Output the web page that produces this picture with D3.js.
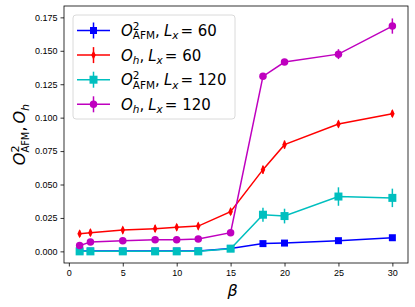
<!DOCTYPE html>
<html>
<head>
<meta charset="utf-8">
<script src="https://cdn.jsdelivr.net/npm/d3@7"></script>
<style>
  body { margin: 0; background: #fff; }
  svg { display: block; font-family: "DejaVu Sans", sans-serif; }
  .axis text { font-size: 9px; fill: #000; }
  .axis path, .axis line { stroke: #000; stroke-width: 0.8; }
</style>
</head>
<body>
<div id="chart-container"></div>
<script>
// data
var betaAll = [1, 2, 5, 8, 10, 12, 15, 18, 20, 25, 30];

var afm60 = [0.0002, 0.0002, 0.0002, 0.0002, 0.0002, 0.0003, 0.0022, 0.0058, 0.0062, 0.0080, 0.0102];
var afm60Err = [0.0003, 0.0003, 0.0003, 0.0003, 0.0003, 0.0003, 0.0005, 0.0008, 0.0008, 0.0008, 0.0010];

var oh60 = [0.0132, 0.0140, 0.0159, 0.0170, 0.0180, 0.0189, 0.0297, 0.0611, 0.0798, 0.0952, 0.1030];
var oh60Err = [0.0025, 0.0025, 0.0025, 0.0025, 0.0025, 0.0025, 0.0025, 0.0030, 0.0030, 0.0025, 0.0025];

var afm120 = [0.0000, 0.0000, 0.0000, 0.0000, 0.0000, 0.0000, 0.0020, 0.0274, 0.0264, 0.0410, 0.0400];
var afm120Err = [0.0005, 0.0005, 0.0005, 0.0005, 0.0005, 0.0005, 0.0008, 0.0053, 0.0055, 0.0069, 0.0069];

var oh120 = [0.0043, 0.0070, 0.0080, 0.0087, 0.0087, 0.0092, 0.0140, 0.1309, 0.1416, 0.1475, 0.1685];
var oh120Err = [0.0010, 0.0010, 0.0010, 0.0010, 0.0010, 0.0010, 0.0010, 0.0015, 0.0015, 0.0037, 0.0057];

var xTicks = [0, 5, 10, 15, 20, 25, 30];
var yTicks = [0, 0.025, 0.05, 0.075, 0.1, 0.125, 0.15, 0.175];

var series = [
    { vals: afm60, err: afm60Err, color: "#0000ff", marker: "square", size: 7, label: "afm", L: "60" },
    { vals: oh60, err: oh60Err, color: "#ff0000", marker: "diamond", size: 7, label: "oh", L: "60" },
    { vals: afm120, err: afm120Err, color: "#00bfbf", marker: "square", size: 8, label: "afm", L: "120" },
    { vals: oh120, err: oh120Err, color: "#bf00bf", marker: "circle", size: 7.5, label: "oh", L: "120" }
];

var width = 415,
    height = 307,
    margin = { left: 64, right: 7, top: 6, bottom: 44 };

var svg = d3.select("#chart-container").append("svg")
    .attr("width", width)
    .attr("height", height);

var xScale = d3.scaleLinear()
    .domain([-0.45, 31.45])
    .range([margin.left, width - margin.right]);

var yScale = d3.scaleLinear()
    .domain([-0.0087, 0.1835])
    .range([height - margin.bottom, margin.top]);

var xAxis = d3.axisBottom(xScale)
    .tickValues(xTicks)
    .tickSize(3.5)
    .tickPadding(3)
    .tickFormat(d3.format("d"));

var yAxis = d3.axisLeft(yScale)
    .tickValues(yTicks)
    .tickSize(3.5)
    .tickPadding(3)
    .tickFormat(d3.format(".3f"));

var gX = svg.append("g")
    .attr("class", "axis")
    .attr("transform", "translate(0," + (height - margin.bottom) + ")")
    .call(xAxis);
gX.select(".domain").remove();

var gY = svg.append("g")
    .attr("class", "axis")
    .attr("transform", "translate(" + margin.left + ",0)")
    .call(yAxis);
gY.select(".domain").remove();

// frame
svg.append("rect")
    .attr("x", margin.left)
    .attr("y", margin.top)
    .attr("width", width - margin.left - margin.right)
    .attr("height", height - margin.top - margin.bottom)
    .attr("fill", "none")
    .attr("stroke", "#000")
    .attr("stroke-width", 0.8);

function markerPath(type, s) {
    var h = s / 2;
    if (type == "square") return "M" + (-h) + "," + (-h) + "H" + h + "V" + h + "H" + (-h) + "Z";
    if (type == "diamond") return "M0," + (-h * 1.3) + "L" + (h * 0.65) + ",0L0," + (h * 1.3) + "L" + (-h * 0.65) + ",0Z";
    return d3.symbol().type(d3.symbolCircle).size(Math.PI * h * h)();
}

var line = d3.line()
    .x((d, i) => xScale(betaAll[i]))
    .y(d => yScale(d));

var plot = svg.append("g");

series.forEach(function (s) {
    var g = plot.append("g");
    g.append("path")
        .attr("d", line(s.vals))
        .attr("fill", "none")
        .attr("stroke", s.color)
        .attr("stroke-width", 1.5);
    g.selectAll(".err").data(s.vals).enter().append("line")
        .attr("x1", (d, i) => xScale(betaAll[i]))
        .attr("x2", (d, i) => xScale(betaAll[i]))
        .attr("y1", (d, i) => yScale(d - s.err[i]))
        .attr("y2", (d, i) => yScale(d + s.err[i]))
        .attr("stroke", s.color)
        .attr("stroke-width", 1.5);
    g.selectAll(".mk").data(s.vals).enter().append("path")
        .attr("d", markerPath(s.marker, s.size))
        .attr("transform", (d, i) => "translate(" + xScale(betaAll[i]) + "," + yScale(d) + ")")
        .attr("fill", s.color);
});

// math-like text in one <text>, runs: {t, it, sub, sup, stack, gap}
function mathText(g, runs, size) {
    var probe = g.append("text").style("white-space", "pre");
    var text = g.append("text").attr("fill", "#000").style("white-space", "pre");
    var x = 0, supStart = 0, supEnd = 0;
    runs.forEach(function (r) {
        var fs = r.sup ? size * 0.7 : (r.sub ? size * (r.small || 0.7) : size);
        var dy = r.sub ? size * 0.22 : (r.sup ? -size * 0.4 : 0);
        var startX = r.stack ? supStart : x;
        probe.attr("font-size", fs).attr("font-style", r.it ? "italic" : "normal").text(r.t);
        var w = probe.node().getComputedTextLength();
        text.append("tspan")
            .attr("x", startX)
            .attr("y", dy)
            .attr("font-size", fs)
            .attr("font-style", r.it ? "italic" : "normal")
            .text(r.t);
        if (r.sup) { supStart = startX; supEnd = startX + w; }
        x = r.stack ? Math.max(startX + w, supEnd) : startX + w;
        if (r.gap) x += r.gap;
    });
    probe.remove();
    return x;
}

function labelRuns(s) {
    var first = s.label == "afm"
        ? [{ t: "O", it: true }, { t: "2", sup: true }, { t: "AFM", sub: true, stack: true }]
        : [{ t: "O", it: true }, { t: "h", it: true, sub: true }];
    return first.concat([
        { t: ",", gap: 4 },
        { t: "L", it: true },
        { t: "x", it: true, sub: true, gap: 2 },
        { t: "= " + s.L }
    ]);
}

// legend
var legend = svg.append("g");
var legX = 73, legY = 15, rowH = 24.6;
legend.append("rect")
    .attr("x", legX)
    .attr("y", legY)
    .attr("width", 162)
    .attr("height", 104)
    .attr("rx", 3)
    .attr("fill", "#fff")
    .attr("fill-opacity", 0.8)
    .attr("stroke", "#d0d0d0")
    .attr("stroke-width", 0.8);

series.forEach(function (s, i) {
    var cy = legY + 15.5 + i * rowH;
    var row = legend.append("g");
    row.append("line")
        .attr("x1", legX + 4).attr("x2", legX + 37)
        .attr("y1", cy).attr("y2", cy)
        .attr("stroke", s.color).attr("stroke-width", 1.5);
    row.append("line")
        .attr("x1", legX + 20.5).attr("x2", legX + 20.5)
        .attr("y1", cy - 8).attr("y2", cy + 8)
        .attr("stroke", s.color).attr("stroke-width", 1.5);
    row.append("path")
        .attr("d", markerPath(s.marker, s.size))
        .attr("transform", "translate(" + (legX + 20.5) + "," + cy + ")")
        .attr("fill", s.color);
    var tg = row.append("g").attr("transform", "translate(" + (legX + 48) + "," + (cy + 5.5) + ")");
    mathText(tg, labelRuns(s), 15);
});

// axis labels
var xl = svg.append("g");
var xw = mathText(xl, [{ t: "β", it: true }], 16);
xl.attr("transform", "translate(" + (xScale(15) - xw / 2 + 2) + "," + 296 + ")");

var yl = svg.append("g");
var yw = mathText(yl, [
    { t: "O", it: true }, { t: "2", sup: true }, { t: "AFM", sub: true, stack: true, small: 0.62 },
    { t: ",", gap: 3 }, { t: "O", it: true }, { t: "h", it: true, sub: true }
], 16);
yl.attr("transform", "translate(25," + ((margin.top + height - margin.bottom) / 2 + yw / 2) + ") rotate(-90)");
</script>
</body>
</html>
